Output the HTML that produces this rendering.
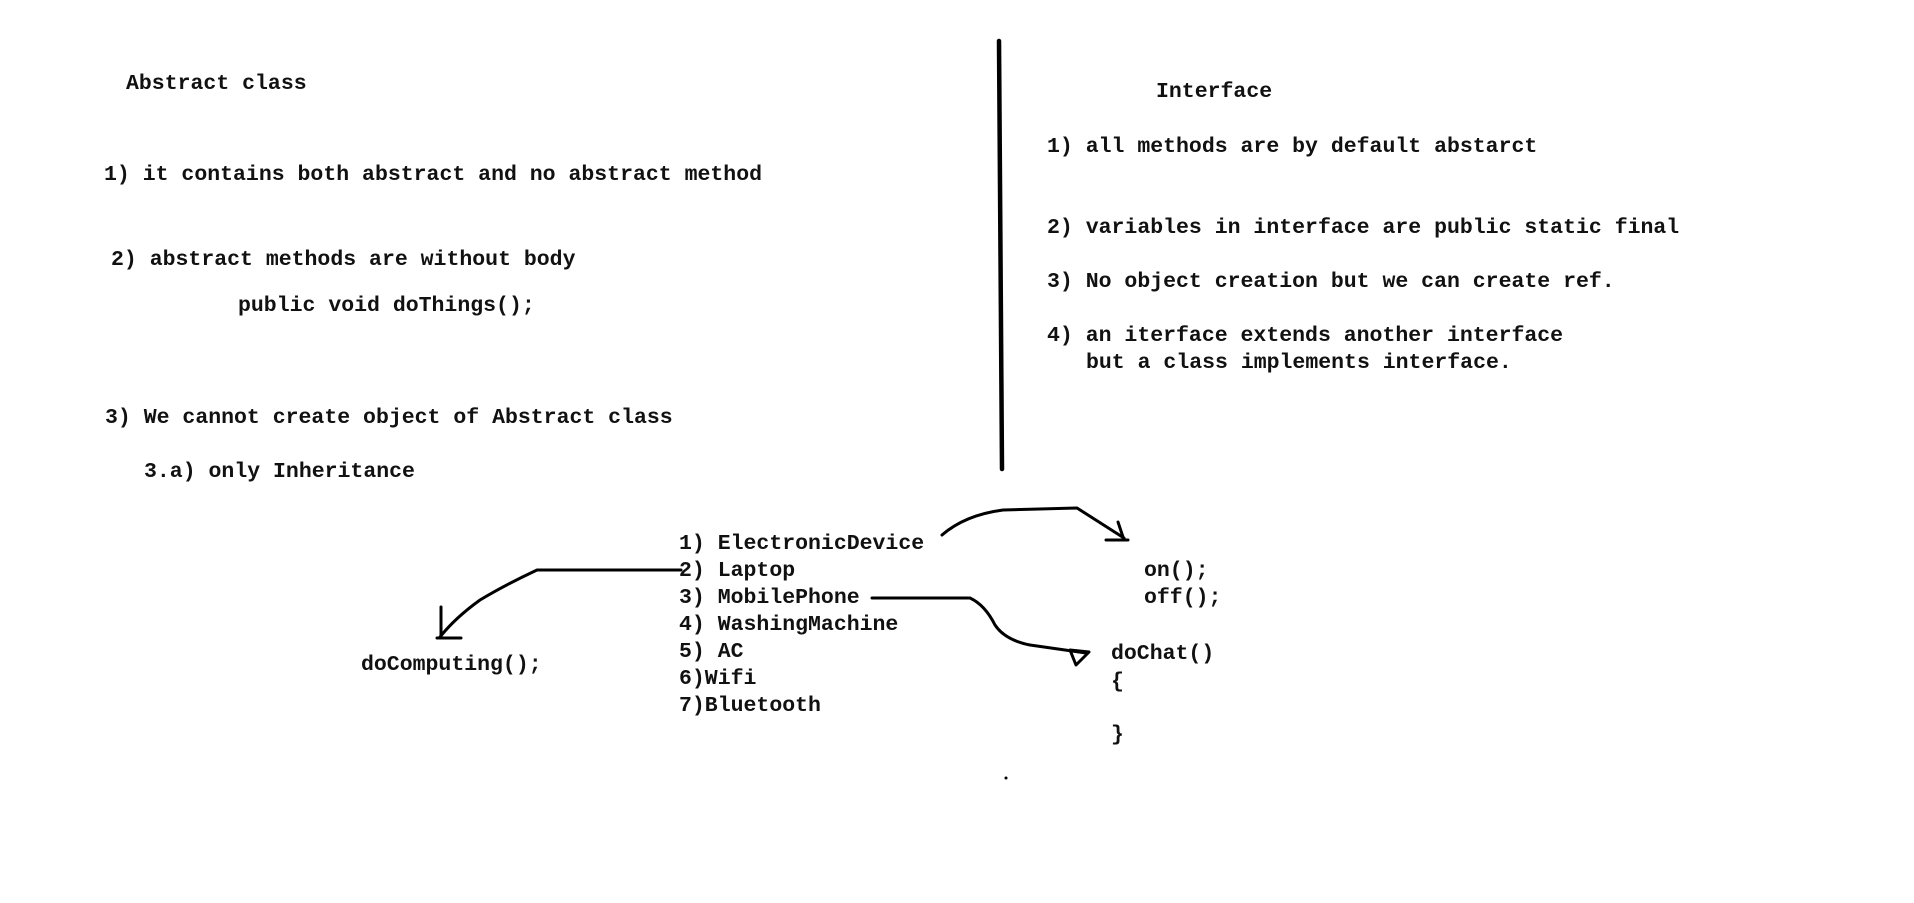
<!DOCTYPE html>
<html><head><meta charset="utf-8"><style>
html,body{margin:0;padding:0;background:#fff;}
body{width:1914px;height:903px;position:relative;overflow:hidden;font-family:"Liberation Mono",monospace;font-weight:bold;font-size:21.5px;color:#111;}
.t{position:absolute;white-space:pre;line-height:24px;transform:translateY(-12px);}
svg{position:absolute;left:0;top:0;}
</style></head><body>
<div class="t" style="left:126px;top:84px">Abstract class</div>
<div class="t" style="left:104px;top:175px">1) it contains both abstract and no abstract method</div>
<div class="t" style="left:111px;top:260px">2) abstract methods are without body</div>
<div class="t" style="left:238px;top:306px">public void doThings();</div>
<div class="t" style="left:105px;top:418px">3) We cannot create object of Abstract class</div>
<div class="t" style="left:144px;top:472px">3.a) only Inheritance</div>

<div class="t" style="left:1156px;top:92px">Interface</div>
<div class="t" style="left:1047px;top:147px">1) all methods are by default abstarct</div>
<div class="t" style="left:1047px;top:228px">2) variables in interface are public static final</div>
<div class="t" style="left:1047px;top:282px">3) No object creation but we can create ref.</div>
<div class="t" style="left:1047px;top:336px">4) an iterface extends another interface</div>
<div class="t" style="left:1086px;top:363px">but a class implements interface.</div>

<div class="t" style="left:679px;top:544px">1) ElectronicDevice</div>
<div class="t" style="left:679px;top:571px">2) Laptop</div>
<div class="t" style="left:679px;top:598px">3) MobilePhone</div>
<div class="t" style="left:679px;top:625px">4) WashingMachine</div>
<div class="t" style="left:679px;top:652px">5) AC</div>
<div class="t" style="left:679px;top:679px">6)Wifi</div>
<div class="t" style="left:679px;top:706px">7)Bluetooth</div>

<div class="t" style="left:361px;top:665px">doComputing();</div>
<div class="t" style="left:1144px;top:571px">on();</div>
<div class="t" style="left:1144px;top:598px">off();</div>
<div class="t" style="left:1111px;top:654px">doChat()</div>
<div class="t" style="left:1111px;top:682px">{</div>
<div class="t" style="left:1111px;top:735px">}</div>

<svg width="1914" height="903" viewBox="0 0 1914 903" fill="none" stroke="#000" stroke-width="3" stroke-linecap="round" stroke-linejoin="round">
<line x1="999" y1="41" x2="1002" y2="469" stroke-width="4.5"/>
<path d="M681 570 L537 570 Q505 585 480 600 Q455 618 440 637"/>
<path d="M441 607 L441 638 M437 638 L461 638"/>
<path d="M942 535 Q965 515 1003 510 L1077 508 L1124 538"/>
<path d="M1118 522 L1124 540 M1106 540 L1128 540"/>
<path d="M872 598 L970 598 Q985 605 995 625 Q1005 640 1030 645 L1086 653"/>
<path d="M1070 650 L1089 652 L1076 665 Z"/>
<circle cx="1006" cy="778" r="1.5" fill="#000" stroke="none"/>
</svg>
</body></html>
